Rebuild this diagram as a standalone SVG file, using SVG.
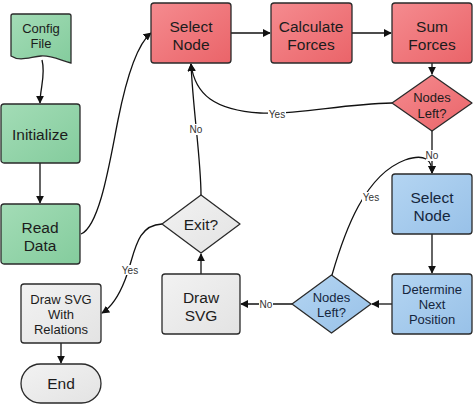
<svg xmlns="http://www.w3.org/2000/svg" width="474" height="405" viewBox="0 0 474 405">
<defs>
<linearGradient id="gGreen" x1="0" y1="0" x2="1" y2="1"><stop offset="0" stop-color="#a3dcb6"/><stop offset="1" stop-color="#84cc9d"/></linearGradient>
<linearGradient id="gRed" x1="0" y1="0" x2="1" y2="1"><stop offset="0" stop-color="#f58b8f"/><stop offset="1" stop-color="#ea6469"/></linearGradient>
<linearGradient id="gBlue" x1="0" y1="0" x2="1" y2="1"><stop offset="0" stop-color="#b4d5f2"/><stop offset="1" stop-color="#98c1e8"/></linearGradient>
<linearGradient id="gGray" x1="0" y1="0" x2="1" y2="1"><stop offset="0" stop-color="#f2f2f2"/><stop offset="1" stop-color="#e3e3e3"/></linearGradient>
<marker id="arr" viewBox="0 0 10 10" refX="9" refY="5" markerWidth="8" markerHeight="8" markerUnits="userSpaceOnUse" orient="auto"><path d="M0,0 L10,5 L0,10 z" fill="#111"/></marker>
</defs>
<style>
.n{stroke:#2a2a2a;stroke-width:1.3}
.green{fill:url(#gGreen)}
.red{fill:url(#gRed)}
.blue{fill:url(#gBlue)}
.gray{fill:url(#gGray)}
text{font-family:"Liberation Sans",Arial,sans-serif;text-anchor:middle;fill:#1c1c1c}
.t{font-size:15.5px}
.s{font-size:13px}
.lbl{font-size:10px;fill:#333}
.c{fill:none;stroke:#111;stroke-width:1.3;marker-end:url(#arr)}
.bt{fill:#15263d}
</style>
<rect width="474" height="405" fill="#fff"/>
<g id="connectors">
<path class="c" d="M42,60 C46,75 40,88 40,103"/>
<path class="c" d="M40,163 L40,203"/>
<path class="c" d="M81,234 C100,226 110,160 118,120 C126,80 136,45 151,33"/>
<path class="c" d="M231,33 L270,33"/>
<path class="c" d="M352,33 L391,33"/>
<path class="c" d="M432,63 L432,74"/>
<path class="c" d="M392,103 C340,104 300,115 260,113 C215,110 195,95 191,64"/>
<path class="c" d="M201,195 C201,160 193,110 191,64"/>
<path class="c" d="M432,131 L432,173"/>
<path class="c" d="M432,234 L432,273"/>
<path class="c" d="M392,304 L372,304"/>
<path class="c" d="M292,304 L241,304"/>
<path class="c" d="M332,275 C345,230 365,175 405,160 C425,153 432,160 432,173"/>
<path class="c" d="M201,274 L201,254"/>
<path class="c" d="M162,224 C135,225 135,255 125,280 C118,298 110,308 102,313"/>
<path class="c" d="M61,343 L61,363"/>
<rect x="268" y="109" width="18" height="10" fill="#fff"/>
<text class="lbl" x="277" y="118">Yes</text>
<rect x="189" y="124" width="14" height="11" fill="#fff"/>
<text class="lbl" x="196" y="133">No</text>
<rect x="426" y="150" width="14" height="11" fill="#fff"/>
<text class="lbl" x="432" y="159">No</text>
<rect x="362" y="192" width="18" height="10" fill="#fff"/>
<text class="lbl" x="371" y="201">Yes</text>
<rect x="259" y="299" width="14" height="11" fill="#fff"/>
<text class="lbl" x="266" y="308">No</text>
<rect x="121" y="265" width="18" height="10" fill="#fff"/>
<text class="lbl" x="130" y="274">Yes</text>
</g>
<g id="config-file">
<path class="n green" d="M11,16 Q11,14 13,14 L69,14 Q71,14 71,16 L71,63 C60,60 50,55 41,56 C30,57 20,62 11,56 Z"/>
<text class="s" x="41" y="33">Config</text>
<text class="s" x="41" y="48">File</text>
</g>
<g id="initialize">
<rect class="n green" x="1" y="104" width="79" height="59" rx="3"/>
<text class="t" x="40" y="140">Initialize</text>
</g>
<g id="read-data">
<rect class="n green" x="1" y="204" width="79" height="60" rx="3"/>
<text class="t" x="40" y="233">Read</text>
<text class="t" x="40" y="251">Data</text>
</g>
<g id="select-node-red">
<rect class="n red" x="151" y="3" width="80" height="60" rx="3"/>
<text class="t" x="191" y="32">Select</text>
<text class="t" x="191" y="50">Node</text>
</g>
<g id="calculate-forces">
<rect class="n red" x="271" y="3" width="81" height="60" rx="3"/>
<text class="t" x="311" y="32">Calculate</text>
<text class="t" x="311" y="50">Forces</text>
</g>
<g id="sum-forces">
<rect class="n red" x="392" y="3" width="80" height="60" rx="3"/>
<text class="t" x="432" y="32">Sum</text>
<text class="t" x="432" y="50">Forces</text>
</g>
<g id="nodes-left-red">
<path class="n red" d="M432,75 L472,103 L432,131 L392,103 Z" stroke-linejoin="round"/>
<text class="s" x="432" y="102">Nodes</text>
<text class="s" x="432" y="118">Left?</text>
</g>
<g id="select-node-blue">
<rect class="n blue" x="392" y="174" width="80" height="60" rx="3"/>
<text class="t bt" x="432" y="203">Select</text>
<text class="t bt" x="432" y="221">Node</text>
</g>
<g id="determine-next-position">
<rect class="n blue" x="392" y="274" width="80" height="60" rx="3"/>
<text class="s bt" x="432" y="294">Determine</text>
<text class="s bt" x="432" y="309">Next</text>
<text class="s bt" x="432" y="324">Position</text>
</g>
<g id="nodes-left-blue">
<path class="n blue" d="M331.5,275 L371,304 L331.5,333 L292,304 Z" stroke-linejoin="round"/>
<text class="s bt" x="331.5" y="302">Nodes</text>
<text class="s bt" x="331.5" y="317">Left?</text>
</g>
<g id="draw-svg">
<rect class="n gray" x="162" y="274" width="78" height="60" rx="3"/>
<text class="t" x="201" y="303">Draw</text>
<text class="t" x="201" y="321">SVG</text>
</g>
<g id="exit">
<path class="n gray" d="M201,195 L240,224 L201,253 L162,224 Z" stroke-linejoin="round"/>
<text class="t" x="201" y="230">Exit?</text>
</g>
<g id="draw-svg-relations">
<rect class="n gray" x="21" y="284" width="80" height="59" rx="3"/>
<text class="s" x="61" y="304">Draw SVG</text>
<text class="s" x="61" y="319">With</text>
<text class="s" x="61" y="334">Relations</text>
</g>
<g id="end">
<rect class="n gray" x="21" y="364" width="80" height="39" rx="19.5"/>
<text class="t" x="61" y="389">End</text>
</g>
</svg>
